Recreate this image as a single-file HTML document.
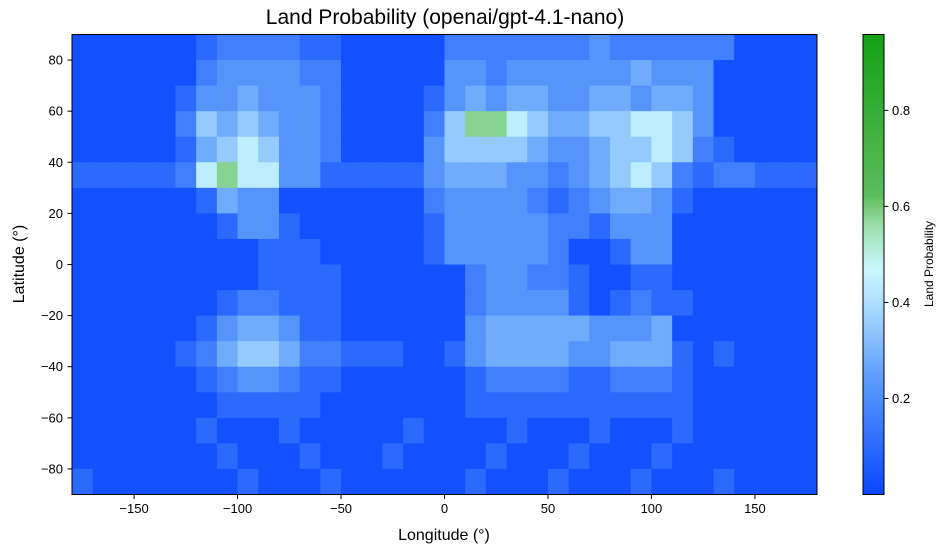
<!DOCTYPE html>
<html><head><meta charset="utf-8"><style>
body{margin:0;background:#fff;}
svg text{font-family:"Liberation Sans",sans-serif;fill:#000;}
</style></head><body>
<svg id="chart" width="947" height="553" viewBox="0 0 947 553">
<defs>
<linearGradient id="cb" x1="0" y1="1" x2="0" y2="0">
<stop offset="0" stop-color="#0a46ff"/>
<stop offset="0.26" stop-color="#5f9ffa"/>
<stop offset="0.42" stop-color="#b0e0ff"/>
<stop offset="0.49" stop-color="#c8f8ff"/>
<stop offset="0.58" stop-color="#a0e0b0"/>
<stop offset="0.65" stop-color="#5cbc5c"/>
<stop offset="1" stop-color="#15a015"/>
</linearGradient>
</defs>
<text x="445" y="24" font-size="21" text-anchor="middle">Land Probability (openai/gpt-4.1-nano)</text>
<g id="cells"></g>
<rect x="72" y="34.5" width="745" height="460" fill="none" stroke="#000" stroke-width="1"/>
<g id="xt"></g>
<g id="yt"></g>
<text x="444" y="540" font-size="16" text-anchor="middle">Longitude (°)</text>
<text transform="translate(24,264) rotate(-90)" font-size="16" text-anchor="middle">Latitude (°)</text>
<rect x="863" y="34.5" width="21" height="460" fill="url(#cb)" stroke="#000" stroke-width="1"/>
<g id="ct"></g>
<text transform="translate(933,264) rotate(-90)" font-size="12" text-anchor="middle">Land Probability</text>
</svg>
<script>
const lonStart = -180, lonStep = 10, latTop = 90, latStep = 10;
const levels = [0.03, 0.1, 0.16, 0.22, 0.28, 0.35, 0.44, 0.58, 0.72, 0.85];
const rows = [
"000000122221100000222222232222220000",
"000000233332200000332333333433300000",
"000001334333200001343443344344300000",
"000002545433200002577654455665300000",
"000001456533200003555543345565210000",
"111112676633111113444332345652122111",
"000000143300000002333321234431000000",
"000000013310000001333332213330000000",
"000000000111000001333332001330000000",
"000000000111100000023322100110000000",
"000000012211100000023333101211000000",
"000000134431100000034444433340000000",
"000001245542211100134444334441010000",
"000000123321100000012222112221000000",
"000000011111000000011111111111000000",
"000000100010000010000100010001000000",
"000000010001000100001000100010000000",
"100000001000100000010001000100010000"
];
const xTicks = [-150,-100,-50,0,50,100,150];
const yTicks = [-80,-60,-40,-20,0,20,40,60,80];
const cTicks = [0.2,0.4,0.6,0.8];
const vmin = 0, vmax = 0.958;
const X = lon => 72 + (lon + 180) * 745 / 360;
const Y = lat => 34.5 + (90 - lat) * 460 / 180;
const CY = v => 494.5 - (v - vmin) / (vmax - vmin) * 460;
const stops = [[0,[10,70,255]],[0.26,[95,159,250]],[0.42,[176,224,255]],[0.49,[200,248,255]],[0.58,[160,224,176]],[0.65,[92,188,92]],[1,[21,160,21]]];
function color(v){
  let t = Math.max(0, Math.min(1, (v - vmin) / (vmax - vmin)));
  for (let i = 1; i < stops.length; i++) {
    if (t <= stops[i][0]) {
      const a = stops[i-1], b = stops[i], f = (t - a[0]) / (b[0] - a[0]);
      const c = a[1].map((x, k) => Math.round(x + (b[1][k] - x) * f));
      return `rgb(${c[0]},${c[1]},${c[2]})`;
    }
  }
  return 'rgb(21,160,21)';
}
const NS = 'http://www.w3.org/2000/svg';
const g = document.getElementById('cells');
rows.forEach((row, r) => {
  for (let c = 0; c < row.length; c++) {
    const v = levels[parseInt(row[c])];
    const lon = lonStart + c * lonStep, lat = latTop - r * latStep;
    const el = document.createElementNS(NS, 'rect');
    el.setAttribute('x', X(lon)); el.setAttribute('y', Y(lat));
    el.setAttribute('width', X(lon + lonStep) - X(lon) + 0.5);
    el.setAttribute('height', Y(lat - latStep) - Y(lat) + 0.5);
    el.setAttribute('fill', color(v));
    
    
    g.appendChild(el);
  }
});
const xt = document.getElementById('xt');
xTicks.forEach(t => {
  const l = document.createElementNS(NS, 'line');
  l.setAttribute('x1', X(t)); l.setAttribute('x2', X(t)); l.setAttribute('y1', 494.5); l.setAttribute('y2', 499); l.setAttribute('stroke', '#000');
  
  
  xt.appendChild(l);
  const tx = document.createElementNS(NS, 'text');
  tx.setAttribute('x', X(t)); tx.setAttribute('y', 513); tx.setAttribute('font-size', '13'); tx.setAttribute('text-anchor', 'middle');
  tx.textContent = t < 0 ? '\u2212' + Math.abs(t) : t;
  
  
  xt.appendChild(tx);
});
const yt = document.getElementById('yt');
yTicks.forEach(t => {
  const l = document.createElementNS(NS, 'line');
  l.setAttribute('x1', 67.5); l.setAttribute('x2', 72); l.setAttribute('y1', Y(t)); l.setAttribute('y2', Y(t)); l.setAttribute('stroke', '#000');
  
  
  yt.appendChild(l);
  const tx = document.createElementNS(NS, 'text');
  tx.setAttribute('x', 63); tx.setAttribute('y', Y(t) + 4.5); tx.setAttribute('font-size', '13'); tx.setAttribute('text-anchor', 'end');
  tx.textContent = t < 0 ? '\u2212' + Math.abs(t) : t;
  
  
  yt.appendChild(tx);
});
const ct = document.getElementById('ct');
cTicks.forEach(t => {
  const l = document.createElementNS(NS, 'line');
  l.setAttribute('x1', 884); l.setAttribute('x2', 888.5); l.setAttribute('y1', CY(t)); l.setAttribute('y2', CY(t)); l.setAttribute('stroke', '#000');
  
  
  ct.appendChild(l);
  const tx = document.createElementNS(NS, 'text');
  tx.setAttribute('x', 892); tx.setAttribute('y', CY(t) + 4.5); tx.setAttribute('font-size', '13');
  tx.textContent = t.toFixed(1);
  
  
  ct.appendChild(tx);
});
</script>
</body></html>
